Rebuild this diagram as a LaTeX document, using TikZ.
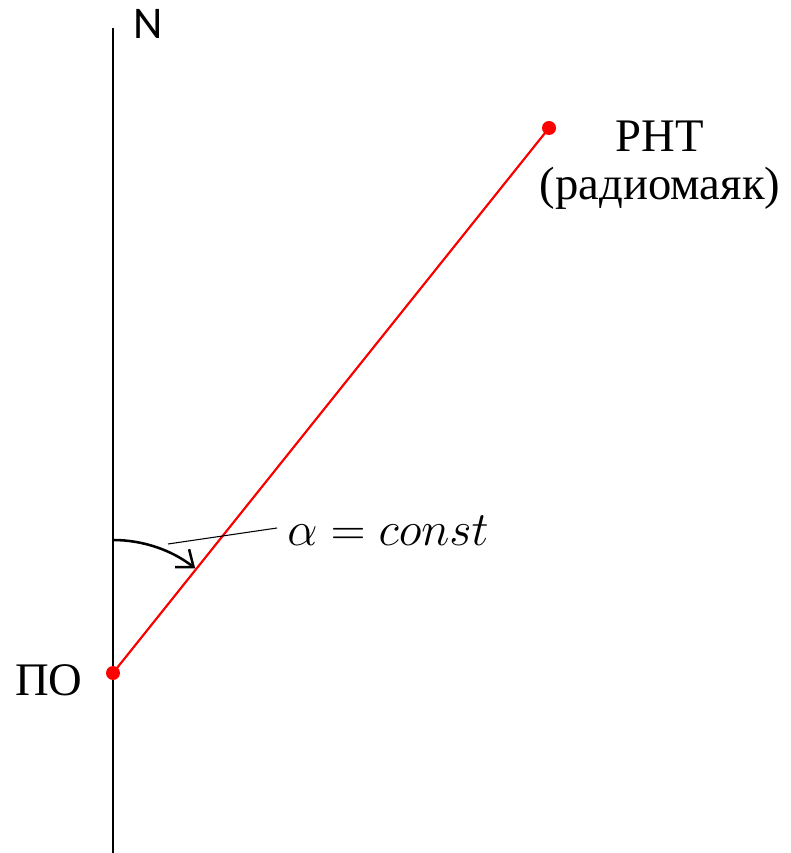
\RequirePackage{fix-cm}
\documentclass[tikz,border=0pt]{standalone}
\usepackage{fontspec}
\setmainfont{Liberation Serif}
\newfontfamily\nfont{Carlito}
\usetikzlibrary{arrows.meta}
\begin{document}
\begin{tikzpicture}[x=0.75pt,y=0.75pt,
  dotst/.style={circle,fill=red,inner sep=0pt,minimum size=10.5pt},
  lbl/.style={font=\fontsize{35}{42}\selectfont,inner sep=0pt,align=center},
  axisline/.style={line width=0.8pt},
  bearing/.style={draw=red,line width=1.6pt}]
\useasboundingbox (0,0) rectangle (790,853);
% north line
\coordinate (ntop) at (113,825);
\coordinate (nbot) at (113,0);
\draw[axisline] (ntop) -- (nbot);
\node[font=\nfont\fontsize{34}{40}\selectfont,inner sep=0pt] (nlab) at (148,829) {N};
% points
\node[dotst] (po) at (113,180) {};
\node[dotst] (pht) at (549,725) {};
\draw[bearing] (po.center) -- (pht.center);
% labels
\node[lbl] (polab) at (49,173) {ПО};
\node[lbl] (phtlab) at (660,688) {РНТ\\[-6pt](радиомаяк)};
% angle arc
\coordinate (arcstart) at (113,313);
\draw[line width=1.9pt,-{Straight Barb[length=11pt,width=17pt,line width=1.9pt]}]
  (arcstart) arc[start angle=90,end angle=51.8,radius=133];
\node[font=\fontsize{36}{42}\selectfont,anchor=west,inner sep=0pt] (alab) at (287,322) {$\alpha = const$};
\coordinate (leadA) at (168,309);
\coordinate (leadB) at (277,325);
\draw[line width=0.8pt] (leadA) -- (leadB);
\end{tikzpicture}
\end{document}
